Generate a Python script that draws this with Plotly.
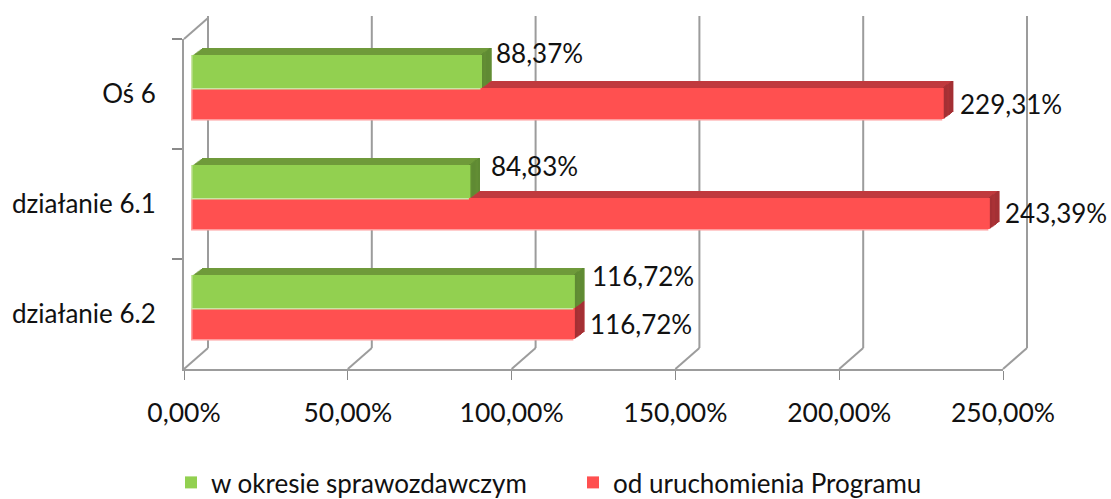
import plotly.graph_objects as go

# ---- data ----
categories = ["Oś 6", "działanie 6.1", "działanie 6.2"]
series_names = ["w okresie sprawozdawczym", "od uruchomienia Programu"]
period_values = [88.37, 84.83, 116.72]
total_values = [229.31, 243.39, 116.72]
x_ticks = [0, 50, 100, 150, 200, 250]
x_tick_labels = ["0,00%", "50,00%", "100,00%", "150,00%", "200,00%", "250,00%"]


def pct(v):
    return f"{v:.2f}%".replace(".", ",")


# ---- layout constants (pixels in a 1111x499 canvas) ----
W, H = 1111, 499
PX0, PX1, PY_TOP, PY_BOT = 184, 1003, 39, 369
PX_PER_UNIT = (PX1 - PX0) / 250
WALL_DX, WALL_DY = 24, 21
BAR_START = 2.6
LAYERS = 8
DEPTH_X, DEPTH_Y = 9.5, 7
CAT_PX = (PY_BOT - PY_TOP) / 3
FONT = "Lato"
TXT = "#111111"
GRID = "#9c9c9c"


def py(p):
    return 1 - p / H


def px(t, shift=0):
    return (PX0 + t * PX_PER_UNIT + shift) / W


dxu = DEPTH_X / LAYERS / PX_PER_UNIT
dyu = DEPTH_Y / LAYERS / CAT_PX

groups = [
    dict(vals=total_values, name=series_names[1], front="#FF5050", top="#C03A3E", side="#A33034",
         edge="#FF9C9C", off=-6 / CAT_PX, wid=31 / CAT_PX, rank=2),
    dict(vals=period_values, name=series_names[0], front="#92D050", top="#6F9A3B", side="#5F8A33",
         edge="#C9E6A4", off=-39 / CAT_PX, wid=33 / CAT_PX, rank=1),
]

fig = go.Figure()
for g in groups:
    common = dict(y=categories, orientation="h", hoverinfo="skip", showlegend=False)
    # depth of the bar: top face and side face
    for k in range(LAYERS, 0, -1):
        fig.add_trace(go.Bar(x=g["vals"], base=BAR_START + k * dxu, offset=g["off"] - k * dyu, width=g["wid"],
                             marker=dict(color=g["top"], line_width=0), **common))
        fig.add_trace(go.Bar(x=[dxu * 1.4] * 3, base=[v + BAR_START + (k - 1.4) * dxu for v in g["vals"]],
                             offset=g["off"] - k * dyu, width=g["wid"],
                             marker=dict(color=g["side"], line_width=0), **common))
    # pale rim on left/bottom of the front face
    fig.add_trace(go.Bar(x=g["vals"], base=BAR_START - 1.5 / PX_PER_UNIT, offset=g["off"], width=g["wid"] + 1.5 / CAT_PX,
                         marker=dict(color=g["edge"], line_width=0), **common))
    # front face
    fig.add_trace(go.Bar(x=g["vals"], y=categories, orientation="h", base=BAR_START, offset=g["off"], width=g["wid"],
                         name=g["name"], legendrank=g["rank"], hoverinfo="skip",
                         marker=dict(color=g["front"], line_width=0)))

# back wall gridlines + floor diagonals, placed from the x tick values
shapes = []
line = dict(color=GRID, width=2)
for t in x_ticks:
    shapes.append(dict(type="line", layer="below", xref="paper", yref="paper",
                       x0=px(t, WALL_DX), x1=px(t, WALL_DX), y0=py(PY_BOT - WALL_DY), y1=py(PY_TOP - WALL_DY - 2),
                       line=line))
    shapes.append(dict(type="line", layer="below", xref="paper", yref="paper",
                       x0=px(t), x1=px(t, WALL_DX), y0=py(PY_BOT), y1=py(PY_BOT - WALL_DY), line=line))
shapes.append(dict(type="line", layer="below", xref="paper", yref="paper",
                   x0=px(0), x1=px(0, WALL_DX), y0=py(PY_TOP), y1=py(PY_TOP - WALL_DY), line=line))

# data labels
label_dx = [[20, 27, 24], [23, 22, 22]]
label_dy = [[-41, -38, -38], [10, 9, 10]]
annotations = []
for s, vals in enumerate([period_values, total_values]):
    for i, v in enumerate(vals):
        annotations.append(dict(x=v, y=categories[i], xref="x", yref="y", text=pct(v), showarrow=False,
                                xanchor="left", yanchor="middle", xshift=label_dx[s][i], yshift=-label_dy[s][i],
                                font=dict(family=FONT, size=26, color=TXT)))

fig.update_layout(
    width=W, height=H, autosize=False, paper_bgcolor="white", plot_bgcolor="rgba(0,0,0,0)",
    margin=dict(l=0, r=0, t=0, b=0, autoexpand=False), barmode="overlay", shapes=shapes, annotations=annotations,
    font=dict(family=FONT, size=24, color=TXT),
    xaxis=dict(domain=[PX0 / W, PX1 / W], range=[0, 250], tickmode="array", tickvals=x_ticks, ticktext=x_tick_labels,
               ticks="outside", ticklen=9, tickwidth=1, tickcolor="#8a8a8a", showgrid=False, zeroline=False,
               showline=True, linecolor=GRID, linewidth=2, ticklabelstandoff=10, automargin=False,
               tickfont=dict(family=FONT, size=26.5, color=TXT)),
    yaxis=dict(domain=[py(PY_BOT), py(PY_TOP)], type="category", categoryorder="array", categoryarray=categories,
               autorange=False, range=[2.5, -0.5], tickson="boundaries", ticks="outside", ticklen=10, tickwidth=2,
               tickcolor="#8a8a8a", showgrid=False, zeroline=False, showline=True, linecolor=GRID, linewidth=2,
               ticklabelstandoff=21, automargin=False, tickfont=dict(family=FONT, size=26, color=TXT)),
    legend=dict(orientation="h", x=171 / W, xanchor="left", y=py(459), yanchor="top", traceorder="normal",
                font=dict(family=FONT, size=26, color=TXT), entrywidth=357, entrywidthmode="pixels",
                bgcolor="rgba(0,0,0,0)"),
)

fig.write_html("out.html", config=dict(displayModeBar=False), post_script="document.body.style.margin='0';")
